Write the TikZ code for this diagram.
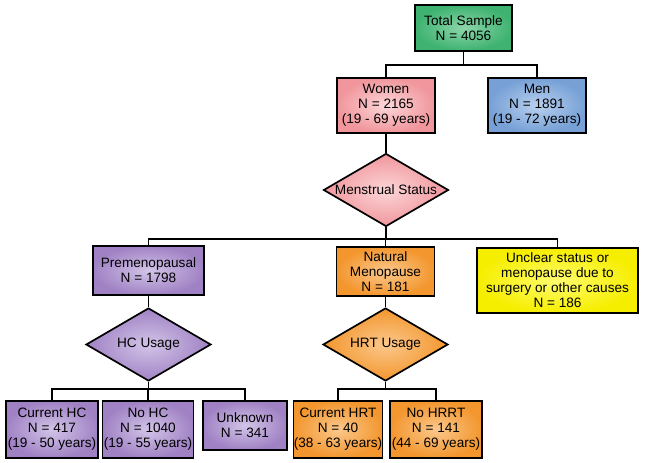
\documentclass[tikz,border=0pt]{standalone}
\usepackage{fontspec}
\setmainfont{Liberation Sans}
\usetikzlibrary{shapes.geometric}
\definecolor{grout}{RGB}{62,178,112}
\definecolor{grin}{RGB}{140,214,170}
\definecolor{pkout}{RGB}{240,150,156}
\definecolor{pkin}{RGB}{252,214,216}
\definecolor{blout}{RGB}{118,160,214}
\definecolor{blin}{RGB}{184,208,238}
\definecolor{puout}{RGB}{160,130,196}
\definecolor{puin}{RGB}{210,196,232}
\definecolor{orout}{RGB}{243,150,46}
\definecolor{orin}{RGB}{251,200,140}
\definecolor{yeout}{RGB}{246,238,0}
\definecolor{yein}{RGB}{255,252,110}
\begin{document}
\begin{tikzpicture}[x=1pt,y=-1pt,
  txt/.style={font=\fontsize{13.6}{15}\selectfont},
  box/.style={draw=black, line width=1.7pt, rectangle, inner sep=0pt, align=center, txt},
  dia/.style={draw=black, line width=1.7pt, diamond, inner sep=0pt,
    minimum width=125pt, minimum height=73pt, label={[txt]center:#1}},
  green/.style={inner color=grin, outer color=grout},
  pink/.style={inner color=pkin, outer color=pkout},
  blue/.style={inner color=blin, outer color=blout},
  purple/.style={inner color=puin, outer color=puout},
  orange/.style={inner color=orin, outer color=orout},
  yellow/.style={inner color=yein, outer color=yeout},
  conn/.style={draw=black, line width=1.7pt}]
\useasboundingbox (0,0) rectangle (645,463);

\node[box, green, minimum width=97pt, minimum height=46pt] (total) at (463.5,28) {Total Sample\\N = 4056};
\node[box, pink, minimum width=98pt, minimum height=55pt] (women) at (386,105.5) {Women\\N = 2165\\(19 - 69 years)};
\node[box, blue, minimum width=98pt, minimum height=55pt] (men) at (537,105.5) {Men\\N = 1891\\(19 - 72 years)};
\node[dia={Menstrual Status}, pink] (ms) at (386,190) {};

\node[box, purple, minimum width=111pt, minimum height=49pt] (prem) at (148.5,270.5) {Premenopausal\\N = 1798};
\node[box, orange, minimum width=98pt, minimum height=49pt] (nat) at (385.5,271.5) {Natural\\Menopause\\N = 181};
\node[box, yellow, minimum width=161pt, minimum height=65pt] (uncl) at (557.5,280.5) {Unclear status or\\menopause due to\\surgery or other causes\\N = 186};

\node[dia={HC Usage}, purple] (hc) at (148.5,344.5) {};
\node[dia={HRT Usage}, orange] (hrt) at (385.5,344.5) {};

\node[box, purple, minimum width=92pt, minimum height=57pt] (curhc) at (52,429.5) {Current HC\\N = 417\\(19 - 50 years)};
\node[box, purple, minimum width=91pt, minimum height=57pt] (nohc) at (148,429.5) {No HC\\N = 1040\\(19 - 55 years)};
\node[box, purple, minimum width=84pt, minimum height=49pt] (unk) at (245,425.5) {Unknown\\N = 341};
\node[box, orange, minimum width=89pt, minimum height=57pt] (curhrt) at (338,429.5) {Current HRT\\N = 40\\(38 - 63 years)};
\node[box, orange, minimum width=92pt, minimum height=57pt] (nohrrt) at (436,429.5) {No HRRT\\N = 141\\(44 - 69 years)};

\coordinate (j1) at (463.5,65);
\coordinate (j2) at (386,239);
\coordinate (j3) at (148.5,389);
\coordinate (j4) at (385.5,389);

\draw[conn] (total.south) -- (j1);
\draw[conn] (j1) -| (women.north);
\draw[conn] (j1) -| (men.north);
\draw[conn] (women.south) -- (ms.north);
\draw[conn] (ms.south) -- (j2);
\draw[conn] (j2) -| (prem.north);
\draw[conn] (j2) -| (nat.north);
\draw[conn] (j2) -| (uncl.north);
\draw[conn] (prem.south) -- (hc.north);
\draw[conn] (nat.south) -- (hrt.north);
\draw[conn] (hc.south) -- (j3);
\draw[conn] (j3) -| (curhc.north);
\draw[conn] (j3) -| (nohc.north);
\draw[conn] (j3) -| (unk.north);
\draw[conn] (hrt.south) -- (j4);
\draw[conn] (j4) -| (curhrt.north);
\draw[conn] (j4) -| (nohrrt.north);
\end{tikzpicture}
\end{document}
